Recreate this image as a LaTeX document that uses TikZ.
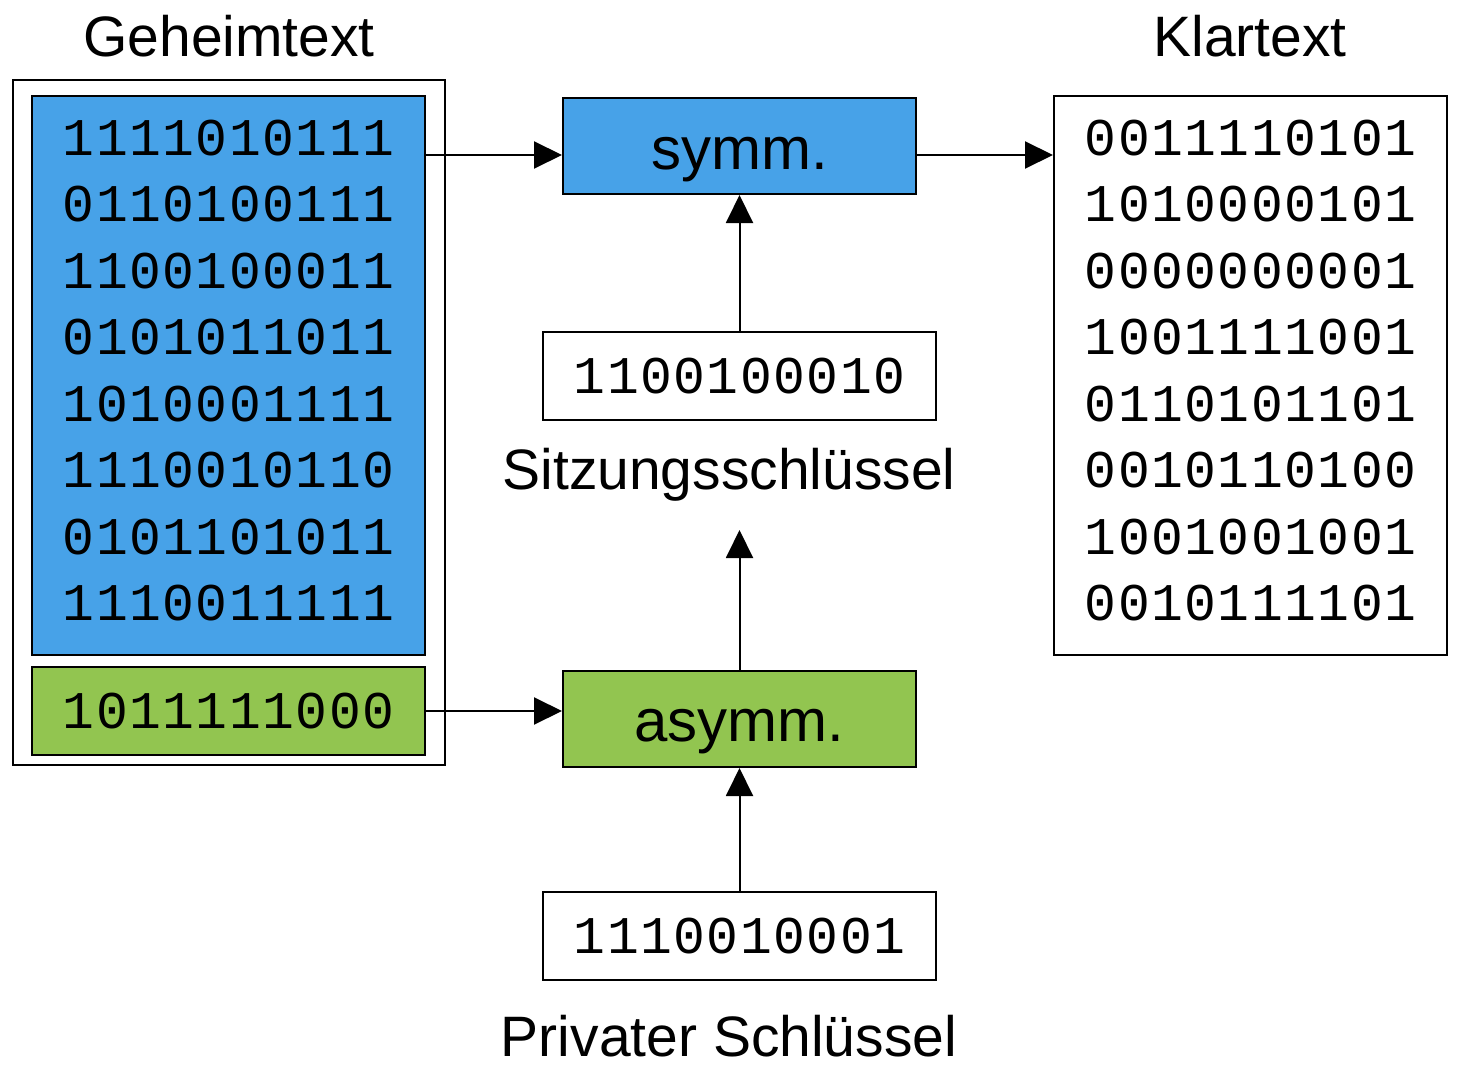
\documentclass[tikz,border=0pt]{standalone}
\usepackage{fontspec}
\setmainfont{Liberation Sans}
\newfontfamily\bitfont[LetterSpace=2.8]{Liberation Mono}
\usetikzlibrary{arrows.meta,calc,positioning}
\definecolor{SymBlue}{HTML}{47A2E8}
\definecolor{AsymGreen}{HTML}{92C550}

\begin{document}
\begin{tikzpicture}[x=1pt,y=-1pt,>={Triangle[length=28pt,width=27pt]},line width=2pt,
    box/.style={draw,line width=2pt,inner sep=0pt,minimum width=393pt,minimum height=88pt,
      align=center,font=\bitfont\fontsize{53}{66.5}\selectfont},
    block/.style={box,minimum height=559pt,text depth=10pt},
    algo/.style={draw,line width=2pt,inner sep=0pt,minimum width=353pt,minimum height=96pt,
      text height=61pt,text depth=13pt,font=\fontsize{60}{72}\selectfont},
    caption/.style={anchor=base,inner sep=0pt,font=\fontsize{57}{68}\selectfont}]
  \useasboundingbox (0,0) rectangle (1461,1078);
  % Geheimtext
  \node[caption] (ctitle) at (229,57) {Geheimtext};
  \node[draw,line width=2pt,minimum width=432pt,minimum height=685pt] (outer) at (229,422.5) {};
  \node[block,fill=SymBlue] (cipher) at (228.5,375.5)
    {1111010111\\0110100111\\1100100011\\0101011011\\1010001111\\1110010110\\0101101011\\1110011111};
  \node[box,fill=AsymGreen] (ckey) at (228.5,711) {1011111000};
  % Verfahren
  \node[algo,fill=SymBlue] (symm) at (739.5,146) {symm.};
  \node[algo,fill=AsymGreen,text height=57pt] (asymm) at (739.5,719) {asymm.};
  % Schluessel
  \node[box] (skey) at (739.5,376) {1100100010};
  \node[caption] (slabel) at (729,489) {Sitzungsschlüssel};
  \node[box] (pkey) at (739.5,936) {1110010001};
  \node[caption] (plabel) at (729,1056) {Privater Schlüssel};
  % Klartext
  \node[caption] (ptitle) at (1250,57) {Klartext};
  \node[block] (plain) at (1250.5,375.5)
    {0011110101\\1010000101\\0000000001\\1001111001\\0110101101\\0010110100\\1001001001\\0010111101};
  % Pfeile
  \coordinate (row) at (0,155);
  \coordinate (keyin) at (739.5,530);
  \draw[->] (cipher.east |- row) -- (symm.west |- row);
  \draw[->] (symm.east |- row) -- (plain.west |- row);
  \draw[->] (ckey.east) -- (ckey.east -| asymm.west);
  \draw[->] (skey.north) -- (symm.south);
  \draw[->] (asymm.north) -- (keyin);
  \draw[->] (pkey.north) -- (asymm.south);
\end{tikzpicture}
\end{document}
